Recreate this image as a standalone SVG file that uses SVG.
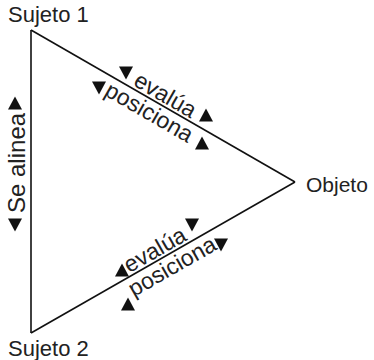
<svg xmlns="http://www.w3.org/2000/svg" width="374" height="360" viewBox="0 0 374 360">
<style>
.t{font-family:"Liberation Sans",Arial,sans-serif;font-size:22px;fill:#222}
.r{font-size:23px}
.e{stroke:#111;stroke-width:1.6;fill:none}
.tri{fill:#111}
</style>
<defs>
<polygon id="up" points="0,-6.5 7,6.5 -7,6.5"/>
<polygon id="dn" points="0,6.5 7,-6.5 -7,-6.5"/>
</defs>
<rect width="374" height="360" fill="#fff"/>
<g id="connectors">
<line class="e" x1="31" y1="30" x2="31" y2="333"/>
<line class="e" x1="31" y1="30" x2="295" y2="182"/>
<line class="e" x1="31" y1="333" x2="295" y2="182"/>
</g>
<g id="sujeto1"><text class="t" x="8" y="22">Sujeto 1</text></g>
<g id="sujeto2"><text class="t" x="8" y="356">Sujeto 2</text></g>
<g id="objeto"><text class="t" x="306" y="192" style="font-size:21px">Objeto</text></g>
<g id="label-se-alinea">
<text class="t" transform="translate(25,213) rotate(-90)" style="font-size:24px">Se alinea</text>
<use href="#up" class="tri" x="15" y="103"/>
<use href="#dn" class="tri" x="15" y="225"/>
</g>
<g id="label-upper">
<text class="t r" transform="translate(31,30) rotate(29.93)" x="115" y="-3">evalúa</text>
<text class="t r" transform="translate(31,30) rotate(29.93)" x="95" y="20">posiciona</text>
<use href="#dn" class="tri" x="126" y="73"/>
<use href="#up" class="tri" x="206" y="115"/>
<use href="#dn" class="tri" x="99" y="88"/>
<use href="#up" class="tri" x="202" y="143"/>
</g>
<g id="label-lower">
<text class="t r" transform="translate(31,333) rotate(-29.77)" x="115" y="-3">evalúa</text>
<text class="t r" transform="translate(31,333) rotate(-29.77)" x="107" y="20">posiciona</text>
<use href="#up" class="tri" x="122" y="270"/>
<use href="#dn" class="tri" x="192" y="225"/>
<use href="#up" class="tri" x="128" y="304"/>
<use href="#dn" class="tri" x="221" y="245"/>
</g>
</svg>
